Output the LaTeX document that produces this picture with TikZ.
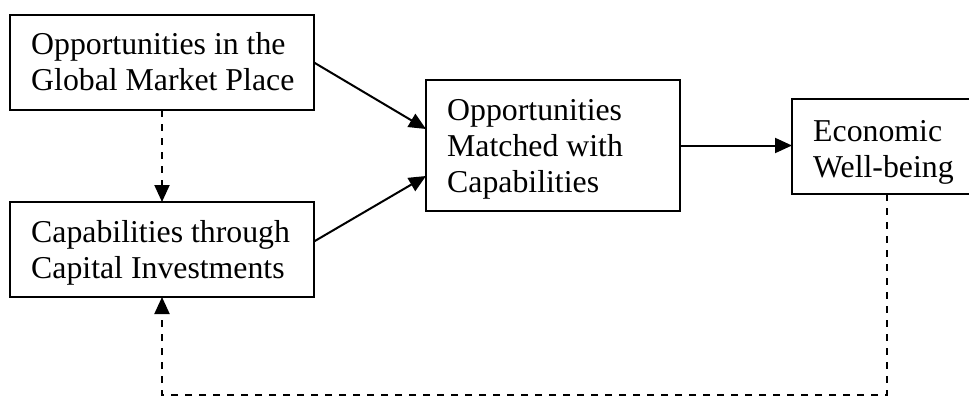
\documentclass[tikz,border=0pt]{standalone}
\usepackage{fontspec}
\setmainfont{Liberation Serif}
\usetikzlibrary{arrows.meta}
\begin{document}
\begin{tikzpicture}[x=1pt,y=-1pt,
  box/.style={draw,line width=2.2pt,inner sep=0pt,outer sep=0pt},
  lbl/.style={anchor=base west,inner sep=0pt,align=left,font=\fontsize{31.8}{36}\selectfont},
  arr/.style={line width=2pt,-{Triangle[length=17pt,width=15pt]}},
  dsh/.style={arr,dash pattern=on 7pt off 7pt}]
\clip (0,0) rectangle (969,396);
\fill[white] (0,0) rectangle (969,396);
\node[box,minimum width=304pt,minimum height=95pt] (A) at (162,62.5) {};
\node[box,minimum width=304pt,minimum height=95pt] (B) at (162,249.5) {};
\node[box,minimum width=254pt,minimum height=131pt] (C) at (553,145.5) {};
\node[box,minimum width=190pt,minimum height=95pt] (D) at (887,146.5) {};
\node[lbl] (ta) at (31,91) {Opportunities in the\\Global Market Place};
\node[lbl] (tb) at (31,278) {Capabilities through\\Capital Investments};
\node[lbl] (tc) at (447,192) {Opportunities\\Matched with\\Capabilities};
\node[lbl] (td) at (813,177) {Economic\\Well-being};
\coordinate (bot) at (0,395);
\draw[dsh] (A.south) -- (B.north);
\draw[arr] (A.east) -- ([yshift=16.5pt]C.west);
\draw[arr] ([yshift=8pt]B.east) -- ([yshift=-30.5pt]C.west);
\draw[arr] (C.east) -- (C.east -| D.west);
\draw[dsh] (D.south) -- (D.south |- bot) -| (B.south);
\end{tikzpicture}
\end{document}
